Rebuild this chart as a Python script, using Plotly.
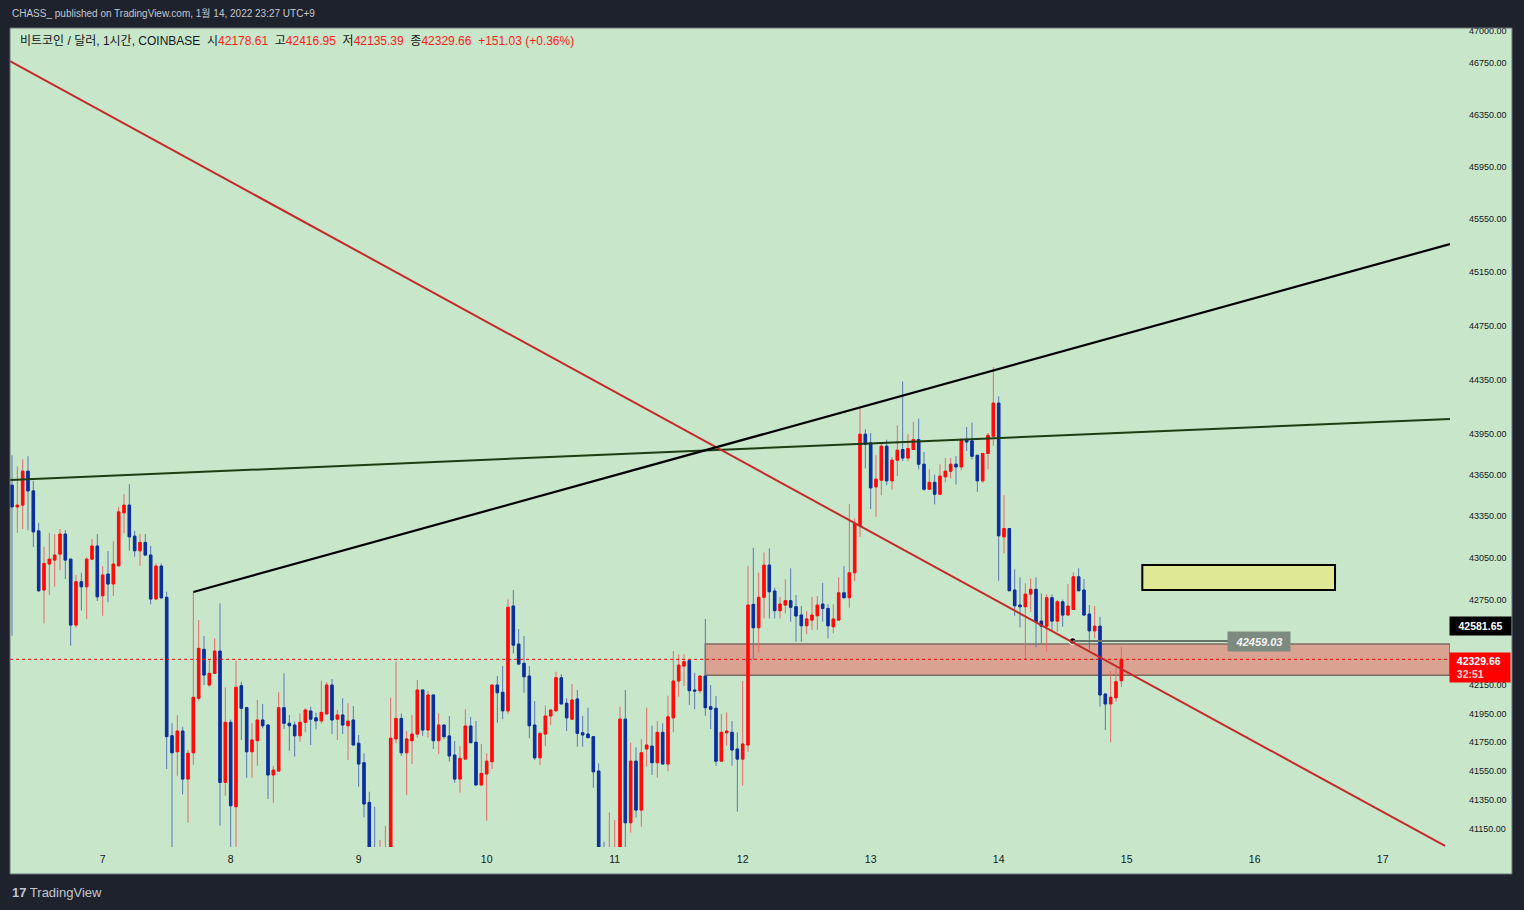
import numpy as np
import pandas as pd
import plotly.graph_objects as go

# ---------------- data (BTC/USD, 1h, COINBASE, UTC+9) ----------------
start_time = "2022-01-06 07:00"
opens = [43575, 43418, 43431, 43677, 43534, 43245, 42821, 43007, 43035, 43078,
         43222, 43042, 42572, 42880, 42844, 43042, 43136, 42780, 42935, 42864,
         42994, 43375, 43431, 43207, 43102, 43162, 43071, 42757, 42992, 42769,
         41794, 41683, 41827, 41494, 41676, 42056, 42400, 42149, 42231, 42388,
         41471, 41888, 41303, 42144, 41990, 41683, 41760, 41904, 41869, 41522,
         41549, 41990, 41881, 41869, 41794, 41888, 41967, 41919, 41898, 41946,
         42149, 41910, 41939, 41864, 41904, 41742, 41607, 41333, 40980, 40900,
         40990, 41000, 41772, 41915, 41676, 41760, 41806, 42114, 41834, 42079,
         41760, 41869, 41793, 41660, 41494, 41632, 41862, 41749, 41453, 41529,
         41614, 42149, 42098, 41968, 42707, 42437, 42301, 42212, 41869, 41641,
         41806, 41932, 41968, 42200, 42021, 41910, 42051, 41815, 41806, 41788,
         41549, 40990, 40920, 40990, 41000, 41910, 41193, 41618, 41280, 41702,
         41722, 41607, 41818, 41598, 41919, 42177, 42282, 42320, 42114, 42109,
         42212, 41997, 41986, 41618, 41815, 41818, 41702, 41632, 41730, 42719,
         42553, 42769, 42999, 42814, 42674, 42714, 42745, 42702, 42643, 42567,
         42607, 42638, 42721, 42690, 42560, 42607, 42801, 42766, 42944, 43281,
         43947, 43883, 43563, 43612, 43859, 43607, 43757, 43835, 43773, 43835,
         43907, 43728, 43546, 43596, 43510, 43636, 43677, 43728, 43708, 43909,
         43898, 43793, 43607, 43806, 43932, 44175, 43202, 43262, 42821, 42714,
         42702, 42792, 42826, 42600, 42564, 42766, 42600, 42737, 42643, 42683,
         42915, 42821, 42650, 42531, 42564, 42086, 42016, 42060, 42178.61]
highs = [43793, 43713, 43764, 43786, 43607, 43303, 43130, 43229, 43222, 43258,
         43250, 43042, 42928, 42944, 43054, 43186, 43222, 42992, 43100, 43171,
         43418, 43510, 43583, 43245, 43222, 43222, 43136, 43011, 43011, 42809,
         41881, 41939, 41857, 41695, 42809, 42607, 42494, 42330, 42478, 42726,
         42133, 41908, 42320, 42172, 41997, 41881, 42044, 42016, 41869, 41584,
         42098, 42231, 41939, 41892, 41950, 41986, 41997, 41955, 42179, 42168,
         42191, 41974, 42056, 42021, 42001, 41800, 41672, 41406, 41303, 41075,
         41171, 42060, 42313, 41950, 41827, 41939, 42184, 42114, 42107, 42079,
         41950, 41869, 41932, 41758, 41722, 41979, 41926, 41896, 41737, 41672,
         42149, 42212, 42282, 42754, 42821, 42544, 42494, 42282, 42037, 41811,
         42003, 41974, 42242, 42226, 42056, 42156, 42114, 41933, 41990, 41788,
         41603, 41063, 41264, 41212, 41997, 42114, 41746, 41713, 41772, 41990,
         41864, 41896, 41881, 42074, 42388, 42365, 42365, 42320, 42235, 42212,
         42615, 42149, 42072, 41946, 41957, 41896, 41818, 42177, 42992, 43123,
         42944, 43090, 43119, 42837, 42773, 42899, 42976, 42785, 42707, 42671,
         42773, 42778, 42872, 42721, 42719, 42911, 42992, 43438, 43335, 44135,
         43983, 43956, 43793, 43890, 43907, 43781, 44012, 44335, 43947, 44037,
         44061, 43817, 43691, 43652, 43728, 43773, 43773, 43786, 43915, 44000,
         44032, 43793, 43810, 43956, 44441, 44225, 43503, 43262, 42969, 42911,
         42869, 42904, 42911, 42797, 42790, 42790, 42750, 42754, 42864, 42947,
         42976, 42899, 42714, 42707, 42631, 42086, 42247, 42271, 42416.95]
lows = [42496, 43231, 43258, 43250, 43130, 42809, 42584, 42785, 42844, 42964,
        42899, 42426, 42553, 42674, 42615, 43035, 42742, 42638, 42735, 42780,
        42994, 43229, 43102, 43059, 42994, 43071, 42719, 42757, 42757, 41563,
        40990, 41517, 41388, 41193, 41591, 42039, 42149, 42137, 42231, 41173,
        41379, 40990, 40990, 41765, 41503, 41503, 41586, 41846, 41356, 41330,
        41549, 41841, 41690, 41649, 41753, 41818, 41730, 41839, 41881, 41946,
        41806, 41765, 41806, 41626, 41730, 41441, 41230, 40900, 40850, 40850,
        40900, 40950, 41742, 41654, 41384, 41598, 41781, 41794, 41781, 41702,
        41668, 41772, 41614, 41469, 41400, 41632, 41746, 41453, 41453, 41207,
        41563, 41885, 41910, 41946, 42372, 42296, 42095, 41777, 41626, 41591,
        41722, 41869, 41968, 42016, 41827, 41910, 41718, 41718, 41781, 41434,
        40900, 40880, 40880, 40920, 40950, 40990, 41125, 41228, 41166, 41579,
        41522, 41503, 41598, 41549, 41818, 42067, 42142, 42009, 41979, 42091,
        41933, 41841, 41584, 41618, 41725, 41586, 41269, 41448, 41683, 42330,
        42376, 42619, 42619, 42619, 42619, 42655, 42595, 42454, 42454, 42508,
        42537, 42537, 42595, 42478, 42513, 42607, 42766, 42695, 42885, 43202,
        43697, 43402, 43346, 43503, 43575, 43543, 43641, 43750, 43750, 43835,
        43691, 43534, 43546, 43436, 43510, 43596, 43624, 43580, 43684, 43824,
        43764, 43527, 43593, 43691, 43862, 42887, 43084, 42816, 42638, 42556,
        42325, 42666, 42414, 42442, 42383, 42537, 42524, 42560, 42643, 42678,
        42816, 42638, 42390, 42478, 41997, 41834, 41749, 42032, 42135.39]
closes = [43418, 43431, 43677, 43534, 43238, 42816, 43011, 43042, 43071, 43222,
          43035, 42572, 42880, 42844, 43042, 43136, 42773, 42928, 42864, 43007,
          43382, 43431, 43202, 43102, 43162, 43071, 42757, 42992, 42766, 41788,
          41676, 41827, 41494, 41672, 42063, 42407, 42219, 42231, 42388, 41471,
          41888, 41310, 42133, 41986, 41683, 41765, 41904, 41864, 41522, 41556,
          41990, 41881, 41864, 41794, 41888, 41974, 41910, 41898, 41957, 42149,
          41904, 41939, 41869, 41896, 41730, 41598, 41322, 40980, 40900, 40990,
          41010, 41777, 41915, 41676, 41772, 41806, 42114, 41834, 42079, 41760,
          41869, 41788, 41654, 41494, 41637, 41862, 41746, 41453, 41533, 41618,
          42149, 42095, 41968, 42698, 42430, 42296, 42207, 41864, 41641, 41811,
          41932, 41974, 42200, 42016, 41919, 42044, 41811, 41800, 41781, 41544,
          40990, 40950, 40990, 41010, 41910, 41193, 41618, 41280, 41676, 41730,
          41607, 41818, 41598, 41926, 42177, 42289, 42313, 42109, 42107, 42212,
          41990, 41979, 41618, 41818, 41827, 41695, 41632, 41737, 42714, 42553,
          42769, 42999, 42809, 42674, 42721, 42745, 42698, 42636, 42567, 42615,
          42643, 42714, 42690, 42567, 42615, 42801, 42766, 42944, 43299, 43947,
          43873, 43556, 43619, 43859, 43607, 43757, 43830, 43773, 43842, 43907,
          43728, 43546, 43596, 43510, 43641, 43677, 43728, 43708, 43909, 43890,
          43786, 43607, 43806, 43939, 44175, 43210, 43262, 42816, 42709, 42702,
          42792, 42826, 42595, 42564, 42766, 42600, 42737, 42643, 42707, 42915,
          42816, 42643, 42531, 42564, 42079, 42016, 42063, 42172, 42329.66]

times = pd.date_range(start_time, periods=len(opens), freq="h")

day_ticks = pd.date_range("2022-01-07", "2022-01-17", freq="D")
day_labels = [str(d.day) for d in day_ticks]

price_ticks = [47000, 46750, 46350, 45950, 45550, 45150, 44750, 44350, 43950,
               43650, 43350, 43050, 42750, 42150, 41950, 41750, 41550, 41350, 41150]
price_labels = [f"{p:.2f}" for p in price_ticks]

x_range = ["2022-01-06 06:37:30", "2022-01-17 12:37:30"]
y_range_prices = [41027, 47023]

# drawings on the chart (time, price)
red_trend_t = ["2022-01-06 06:37", "2022-01-17 11:42"]
red_trend_p = [46765, 41034]
black_trend_t = ["2022-01-07 17:00", "2022-01-17 12:37"]
black_trend_p = [42807, 45361]
green_trend_t = ["2022-01-06 06:37", "2022-01-17 12:37"]
green_trend_p = [43613, 44059]
zone_start = "2022-01-11 17:00"
zone_prices = [42217, 42438]
yellow_t = ["2022-01-15 02:56", "2022-01-16 15:04"]
yellow_p = [42821, 43000]
measure_t = ["2022-01-14 13:53", "2022-01-15 19:00"]
measure_price = 42459.03
last_price = 42329.66
cross_price = 42581.65

# ---------------- style ----------------
FRAME = "#1e222d"
GREEN = "#c8e6c9"
TXT = "#131722"
UP, UP_W = "#ff0a0a", "#e46a6a"
DN, DN_W = "#0c2f9e", "#5a78b6"
FONT = "'Liberation Sans', Arial, 'Noto Sans CJK KR', sans-serif"

L, R, T, B = 10, 74, 28, 63
W, H = 1524, 910
PW, PH = W - L - R, H - T - B


def px_x(px):
    return (px - L) / PW


def px_y(py):
    return (H - B - py) / PH


o = np.array(opens, float)
c = np.array(closes, float)

fig = go.Figure()
# wicks (lighter)
fig.add_trace(go.Candlestick(
    x=times, open=opens, high=highs, low=lows, close=closes,
    increasing=dict(line=dict(color=UP_W, width=1), fillcolor=UP_W),
    decreasing=dict(line=dict(color=DN_W, width=1), fillcolor=DN_W),
    whiskerwidth=0, hoverinfo="skip", showlegend=False))
# bodies
fig.add_trace(go.Candlestick(
    x=times, open=opens, high=np.maximum(o, c), low=np.minimum(o, c), close=closes,
    increasing=dict(line=dict(color=UP, width=1), fillcolor=UP),
    decreasing=dict(line=dict(color=DN, width=1), fillcolor=DN),
    whiskerwidth=0, hoverinfo="skip", showlegend=False))

shapes = []
# green chart panel incl. axis areas
shapes.append(dict(type="rect", xref="paper", yref="paper", x0=px_x(10), x1=px_x(1512),
                   y0=px_y(874), y1=px_y(28), fillcolor=GREEN, line=dict(width=0), layer="below"))
# support zone
shapes.append(dict(type="rect", xref="x", yref="y", x0=zone_start, x1=x_range[1],
                   y0=zone_prices[0], y1=zone_prices[1], fillcolor="#d9a291",
                   line=dict(color="#7d6b63", width=1.5), layer="below"))
# yellow target box
shapes.append(dict(type="rect", xref="x", yref="y", x0=yellow_t[0], x1=yellow_t[1],
                   y0=yellow_p[0], y1=yellow_p[1], fillcolor="#dfe894",
                   line=dict(color="#000000", width=2), layer="above"))
# last price dotted line
shapes.append(dict(type="line", xref="x", yref="y", x0=x_range[0], x1=x_range[1],
                   y0=last_price, y1=last_price, line=dict(color="#ff0000", width=1, dash="dot")))
# measure line
shapes.append(dict(type="line", xref="x", yref="y", x0=measure_t[0], x1=measure_t[1],
                   y0=measure_price, y1=measure_price, line=dict(color="#66716a", width=2)))
# trend lines
shapes.append(dict(type="line", xref="x", yref="y", x0=green_trend_t[0], x1=green_trend_t[1],
                   y0=green_trend_p[0], y1=green_trend_p[1], line=dict(color="#1d3d15", width=2)))
shapes.append(dict(type="line", xref="x", yref="y", x0=red_trend_t[0], x1=red_trend_t[1],
                   y0=red_trend_p[0], y1=red_trend_p[1], line=dict(color="#c42a2a", width=2)))
shapes.append(dict(type="line", xref="x", yref="y", x0=black_trend_t[0], x1=black_trend_t[1],
                   y0=black_trend_p[0], y1=black_trend_p[1], line=dict(color="#000000", width=2.2)))
# panel border
shapes.append(dict(type="rect", xref="paper", yref="paper", x0=px_x(10), x1=px_x(1512),
                   y0=px_y(874), y1=px_y(28), line=dict(color="#6a6e79", width=1), layer="above"))

# measure anchor dot
fig.add_trace(go.Scatter(x=[measure_t[0]], y=[measure_price], mode="markers",
                         marker=dict(color="#000000", size=7, line=dict(color="#e8e8e8", width=1.5)),
                         hoverinfo="skip", showlegend=False))

red = "#ff1a1a"
legend_text = ("비트코인 / 달러, 1시간, COINBASE\u00a0\u00a0시<span style='color:%s'>42178.61</span>"
               "\u00a0\u00a0고<span style='color:%s'>42416.95</span>"
               "\u00a0\u00a0저<span style='color:%s'>42135.39</span>"
               "\u00a0\u00a0종<span style='color:%s'>42329.66</span>"
               "\u00a0\u00a0<span style='color:%s'>+151.03 (+0.36%%)</span>") % (red, red, red, red, red)

pad = "\u00a0\u00a0"
annotations = [
    dict(xref="paper", yref="paper", x=px_x(10), y=px_y(13), xanchor="left", yanchor="middle",
         text="CHASS_ published on TradingView.com, 1월 14, 2022 23:27 UTC+9", showarrow=False,
         font=dict(family=FONT, size=10, color="#c4c7cf")),
    dict(xref="paper", yref="paper", x=px_x(18), y=px_y(41), xanchor="left", yanchor="middle",
         text=legend_text, showarrow=False, font=dict(family=FONT, size=12, color=TXT)),
    dict(xref="paper", yref="paper", x=px_x(10), y=px_y(892), xanchor="left", yanchor="middle",
         text="<b>17</b> TradingView", showarrow=False, font=dict(family=FONT, size=13, color="#c4c7cf")),
    dict(xref="paper", yref="paper", x=px_x(1480.5), y=px_y(626), xanchor="center", yanchor="middle",
         text="<b>%.2f</b>" % cross_price, showarrow=False, bgcolor="#000000", width=59, height=16,
         borderpad=1, font=dict(family=FONT, size=10.5, color="#ffffff")),
    dict(xref="paper", yref="paper", x=px_x(1480), y=px_y(667), xanchor="center", yanchor="middle",
         text=pad + "<b>%.2f</b><br>" % last_price + pad + "<span style='color:#ffd0d0'><b>32:51</b></span>",
         showarrow=False, bgcolor="#ff0000", width=58, height=27, borderpad=1, align="left",
         font=dict(family=FONT, size=10.5, color="#ffffff")),
    dict(xref="paper", yref="y", x=px_x(1259), y=np.log10(measure_price), xanchor="center", yanchor="middle",
         text="<b><i>%.2f</i></b>" % measure_price, showarrow=False, bgcolor="#7d8a7f",
         width=60, height=17, borderpad=1, font=dict(family=FONT, size=11, color="#f4f4f4")),
]

fig.update_layout(
    width=W, height=H, margin=dict(l=L, r=R, t=T, b=B, pad=0),
    paper_bgcolor=FRAME, plot_bgcolor=GREEN,
    shapes=shapes, annotations=annotations, showlegend=False, hovermode=False,
    boxgap=0.35, boxmode="overlay",
    font=dict(family=FONT, color=TXT),
    xaxis=dict(type="date", range=x_range, rangeslider=dict(visible=False),
               tickmode="array", tickvals=day_ticks, ticktext=day_labels,
               showgrid=False, zeroline=False, showline=False, ticks="",
               ticklabelstandoff=4, tickfont=dict(family=FONT, size=10.5, color=TXT)),
    yaxis=dict(type="log", side="right", range=[np.log10(v) for v in y_range_prices],
               tickmode="array", tickvals=price_ticks, ticktext=price_labels,
               showgrid=False, zeroline=False, showline=False, ticks="",
               ticklabelstandoff=18, tickfont=dict(family=FONT, size=9, color=TXT)),
)

fig.write_html("out.html", config={"displayModeBar": False},
               post_script="document.body.style.margin='0';document.body.style.background='#1e222d';")
